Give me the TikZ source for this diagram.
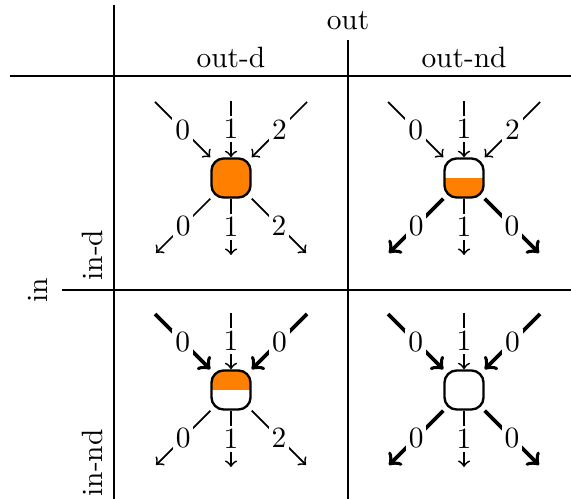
\documentclass[tikz,border=0pt]{standalone}
\usetikzlibrary{calc}
\begin{document}
\begin{tikzpicture}[x=0.34pt,y=-0.34pt,
  st/.style={draw, line width=0.8pt, rounded corners=4.2pt, minimum size=13.3pt, inner sep=0pt},
  fullfill/.style={fill=orange},
  nofill/.style={},
  botfill/.style={path picture={\fill[orange,sharp corners] (path picture bounding box.west) rectangle (path picture bounding box.south east);}},
  topfill/.style={path picture={\fill[orange,sharp corners] (path picture bounding box.north west) rectangle (path picture bounding box.east);}},
  thinarr/.style={->, line width=0.6pt},
  thickarr/.style={->, line width=1.3pt},
  lab/.style={midway, fill=white, inner sep=1pt},
  grid/.style={line width=0.4pt}]
\useasboundingbox (0,0) rectangle (571,499);
% grid
\coordinate (v1t) at (114,5);   \coordinate (v1b) at (114,499);
\coordinate (v2t) at (348,40);  \coordinate (v2b) at (348,499);
\coordinate (h1l) at (10,76);   \coordinate (h1r) at (571,76);
\coordinate (h2l) at (62,290);  \coordinate (h2r) at (571,290);
\draw[grid] (v1t) -- (v1b);
\draw[grid] (v2t) -- (v2b);
\draw[grid] (h1l) -- (h1r);
\draw[grid] (h2l) -- (h2r);
% headers
\node (out) at (348,21) {out};
\node (outd) at (231,57) {out-d};
\node (outnd) at (464,57) {out-nd};
\node[rotate=90] (in) at (38,290) {in};
\node[rotate=90] (ind) at (92,255) {in-d};
\node[rotate=90] (innd) at (92,463) {in-nd};
% cells
\foreach \n/\cx/\cy/\fst/\ist/\ilab/\ost/\olab in {
  a/231/178/fullfill/thinarr/2/thinarr/2,
  b/464/178/botfill/thinarr/2/thickarr/0,
  c/231/390/topfill/thickarr/0/thinarr/2,
  d/464/390/nofill/thickarr/0/thickarr/0}
{
  \node[st,\fst] (\n) at (\cx,\cy) {};
  \coordinate (\n-i0) at (\cx-76,\cy-76);
  \coordinate (\n-i1) at (\cx,\cy-77);
  \coordinate (\n-i2) at (\cx+76,\cy-76);
  \coordinate (\n-o0) at (\cx-75,\cy+75);
  \coordinate (\n-o1) at (\cx,\cy+77);
  \coordinate (\n-o2) at (\cx+75,\cy+75);
  \draw[\ist] (\n-i0) -- (\n) node[lab] {0};
  \draw[thinarr] (\n-i1) -- (\n) node[lab] {1};
  \draw[\ist] (\n-i2) -- (\n) node[lab] {\ilab};
  \draw[\ost] (\n) -- (\n-o0) node[lab] {0};
  \draw[thinarr] (\n) -- (\n-o1) node[lab] {1};
  \draw[\ost] (\n) -- (\n-o2) node[lab] {\olab};
}
\end{tikzpicture}
\end{document}
